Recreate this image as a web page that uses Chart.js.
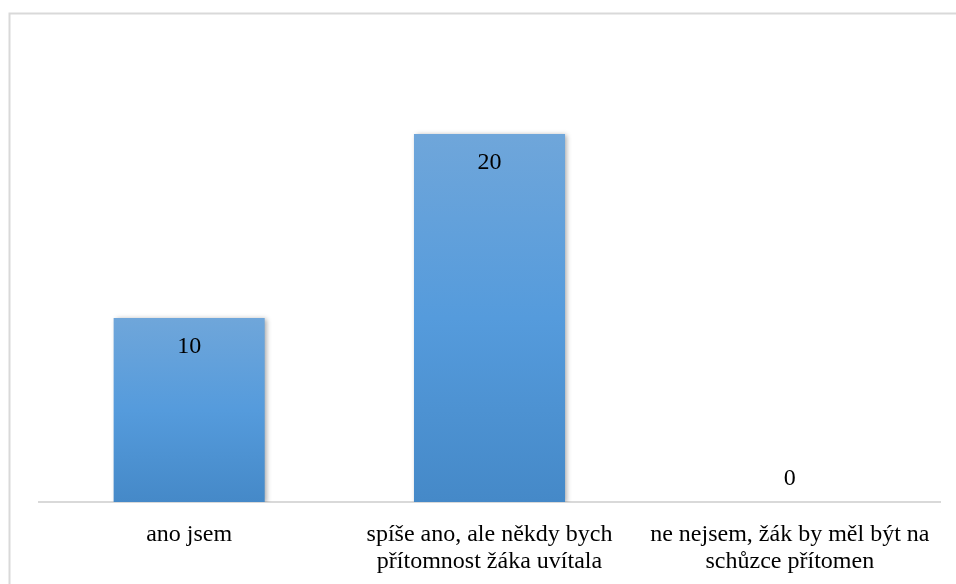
<!DOCTYPE html>
<html>
<head>
<meta charset="utf-8">
<script src="https://cdn.jsdelivr.net/npm/chart.js@4/dist/chart.umd.min.js"></script>
<style>
html,body{margin:0;padding:0;background:#fff;}
#wrap{position:relative;width:956px;height:584px;}
</style>
</head>
<body>
<div id="wrap"><canvas id="c" width="956" height="584"></canvas></div>
<script>
const categories = [
  ["ano jsem"],
  ["spíše ano, ale někdy bych", "přítomnost žáka uvítala"],
  ["ne nejsem, žák by měl být na", "schůzce přítomen"]
];
const values = [10, 20, 0];
const yMax = 25;

const FONT = "'Liberation Serif', 'Times New Roman', serif";

const framePlugin = {
  id: 'frame',
  beforeDraw(chart) {
    const ctx = chart.ctx;
    ctx.save();
    ctx.fillStyle = '#ffffff';
    ctx.fillRect(0, 0, chart.width, chart.height);
    ctx.strokeStyle = '#d9d9d9';
    ctx.lineWidth = 2;
    ctx.beginPath();
    ctx.moveTo(9.5, chart.height + 5);
    ctx.lineTo(9.5, 13.5);
    ctx.lineTo(chart.width + 5, 13.5);
    ctx.stroke();
    ctx.restore();
  }
};

const shadowPlugin = {
  id: 'barShadow',
  beforeDatasetsDraw(chart) {
    const ctx = chart.ctx;
    ctx.save();
    ctx.shadowColor = 'rgba(0,0,0,0.35)';
    ctx.shadowBlur = 5;
    ctx.shadowOffsetX = 2;
    ctx.shadowOffsetY = 1;
  },
  afterDatasetsDraw(chart) {
    chart.ctx.restore();
  }
};

const labelPlugin = {
  id: 'valueLabels',
  afterDatasetsDraw(chart) {
    const ctx = chart.ctx;
    const meta = chart.getDatasetMeta(0);
    const ds = chart.data.datasets[0];
    ctx.save();
    ctx.font = "24px " + FONT;
    ctx.fillStyle = '#000000';
    ctx.textAlign = 'center';
    ctx.textBaseline = 'middle';
    meta.data.forEach((bar, i) => {
      const v = ds.data[i];
      let y;
      if (v > 0) y = bar.y + 29;
      else y = bar.base - 23;
      ctx.fillText(String(v), bar.x, y);
    });
    ctx.restore();
  }
};

function barGradient(context) {
  const chart = context.chart;
  const area = chart.chartArea;
  if (!area) return '#5b9bd5';
  const yScale = chart.scales.y;
  const v = context.raw;
  const top = yScale.getPixelForValue(v);
  const bottom = yScale.getPixelForValue(0);
  if (!(bottom > top)) return '#5b9bd5';
  const g = chart.ctx.createLinearGradient(0, top, 0, bottom);
  g.addColorStop(0, '#6fa6da');
  g.addColorStop(0.5, '#559bdc');
  g.addColorStop(1, '#4589c8');
  return g;
}

new Chart(document.getElementById('c'), {
  type: 'bar',
  data: {
    labels: categories,
    datasets: [{
      data: values,
      backgroundColor: barGradient,
      borderWidth: 0,
      categoryPercentage: 1,
      barPercentage: 0.503
    }]
  },
  options: {
    responsive: false,
    animation: false,
    devicePixelRatio: 1,
    layout: { padding: { left: 39, right: 16, top: 42, bottom: 0 } },
    plugins: { legend: { display: false }, tooltip: { enabled: false } },
    scales: {
      x: {
        grid: { display: false, drawTicks: false },
        border: { display: true, color: '#d9d9d9', width: 2 },
        ticks: {
          color: '#000000',
          font: { family: FONT, size: 24, lineHeight: 1.13 },
          padding: 19,
          maxRotation: 0,
          autoSkip: false
        },
        afterFit(scale) { scale.height = 82; }
      },
      y: {
        display: false,
        min: 0,
        max: yMax
      }
    }
  },
  plugins: [framePlugin, shadowPlugin, labelPlugin]
});
</script>
</body>
</html>
